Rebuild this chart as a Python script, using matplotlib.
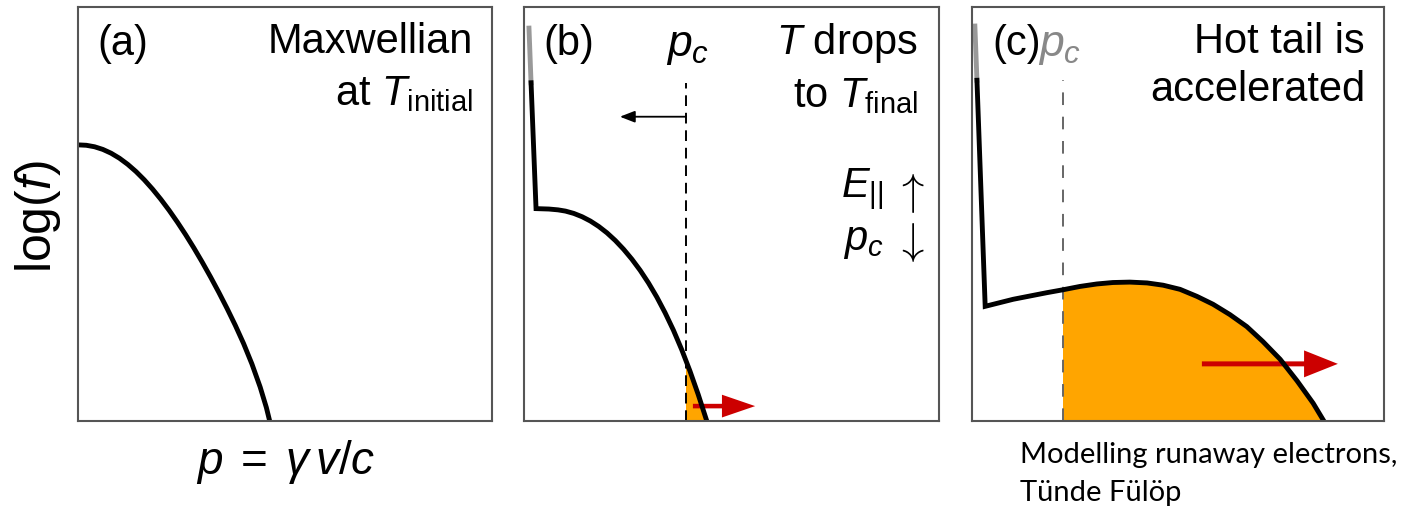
import numpy as np
import matplotlib
matplotlib.use('Agg')
import matplotlib.pyplot as plt
from matplotlib.patches import Rectangle

plt.rcParams['font.family'] = ['Liberation Sans', 'DejaVu Sans']
plt.rcParams['mathtext.fontset'] = 'custom'
plt.rcParams['mathtext.rm'] = 'Liberation Sans'
plt.rcParams['mathtext.it'] = 'Liberation Sans:italic'

# Curvas (p y log f en % del panel)
p_a = [0, 2, 4, 6, 8, 10, 12, 14, 16, 18, 20, 22, 24, 26, 28, 30, 32, 34, 36, 38, 40, 42, 44,
       45.5, 46.3]
f_a = [66.7, 66.6, 66.24, 65.6, 64.68, 63.48, 62.0, 60.26, 58.26, 56.02, 53.56, 50.9, 48.04,
       45.0, 41.78, 38.38, 34.82, 31.1, 27.2, 23.1, 18.7, 13.8, 8.2, 3.25, 0.0]

p_b_top = [1.2, 1.7]
f_b_top = [94.9, 81.7]
p_b = [1.7, 2.9, 6.0, 8.2, 10, 12, 14, 16, 18, 20, 22, 24, 26, 28, 30, 32, 34, 36, 38, 40, 42,
       44, 44.05]
f_b = [81.7, 51.3, 51.2, 51.0, 50.7, 50.14, 49.34, 48.3, 47.0, 45.44, 43.6, 41.48, 39.08, 36.38,
       33.34, 29.94, 26.14, 21.94, 17.24, 12.04, 6.34, 0.14, 0.0]
pc_b = 39.0

p_c_top = [0.7, 1.2]
f_c_top = [95.4, 82.3]
p_c = [1.2, 3.2, 10.0, 18.2, 22.1, 26.2, 30.3, 34.2, 38.3, 42.5, 46.4, 50.5, 54.6, 58.5,
       62.6, 66.7, 70.6, 74.8, 78.9, 82.8, 85.4]
f_c = [82.3, 27.7, 29.4, 31.0, 31.7, 32.5, 33.1, 33.45, 33.55, 33.35, 32.8, 31.8, 30.1, 28.2,
       25.7, 22.8, 19.2, 14.9, 9.7, 4.3, 0.0]
pc_c = 22.1

fig = plt.figure(figsize=(14.05, 5.09), dpi=100)
W, H = 1405.0, 509.0
ax_a = fig.add_axes([78 / W, 88 / H, 414 / W, 414 / H])
ax_b = fig.add_axes([524 / W, 88 / H, 415 / W, 414 / H])
ax_c = fig.add_axes([972 / W, 88 / H, 412 / W, 414 / H])

for ax in (ax_a, ax_b, ax_c):
    ax.set_xlim(0, 100)
    ax.set_ylim(0, 100)
    ax.set_xticks([])
    ax.set_yticks([])
    for s in ax.spines.values():
        s.set_color('#555555')
        s.set_linewidth(1.5)

orange = '#FFA500'
red = '#CC0000'
lw = 3.5
fs = 30

# (a)
ax_a.plot(p_a, f_a, color='black', lw=lw, solid_capstyle='butt')
ax_a.text(0.046, 0.91, '(a)', transform=ax_a.transAxes, fontsize=fs, va='center', ha='left')
ax_a.text(0.954, 0.915, 'Maxwellian', transform=ax_a.transAxes, fontsize=fs, va='center', ha='right')
ax_a.text(0.954, 0.79, r'at $T_{\mathrm{initial}}$', transform=ax_a.transAxes, fontsize=fs,
          va='center', ha='right')

# (b)
pb = np.array(p_b)
fb = np.array(f_b)
fill = ax_b.fill_between(pb, 0, fb, color=orange, lw=0)
fill.set_clip_path(Rectangle((pc_b, 0), 100 - pc_b, 100, transform=ax_b.transData))
ax_b.plot([pc_b, pc_b], [0, 81.7], color='black', lw=1.4, ls=(0, (5.5, 3.5)))
ax_b.plot(p_b_top, f_b_top, color='#999999', lw=lw)
ax_b.plot(p_b, f_b, color='black', lw=lw, solid_joinstyle='miter')
ax_b.annotate('', xy=(23.1, 73.5), xytext=(pc_b, 73.5),
              arrowprops=dict(arrowstyle='-|>,head_length=0.9,head_width=0.35', color='black', lw=1.3,
                              shrinkA=0, shrinkB=0))
ax_b.arrow(40.7, 3.6, 15.0, 0, width=1.1, head_width=5.5, head_length=8.0,
           length_includes_head=True, color=red, lw=0)
ax_b.text(0.046, 0.91, '(b)', transform=ax_b.transAxes, fontsize=fs, va='center', ha='left')
ax_b.text(0.393, 0.905, r'$p_c$', transform=ax_b.transAxes, fontsize=fs + 2, va='center', ha='center')
ax_b.text(0.949, 0.912, r'$T$ drops', transform=ax_b.transAxes, fontsize=fs, va='center', ha='right')
ax_b.text(0.949, 0.785, r'to $T_{\mathrm{final}}$', transform=ax_b.transAxes, fontsize=fs,
          va='center', ha='right')
ax_b.text(0.866, 0.56, r'$E_{||}$', transform=ax_b.transAxes, fontsize=fs, va='center', ha='right')
ax_b.text(0.866, 0.435, r'$p_c$', transform=ax_b.transAxes, fontsize=fs, va='center', ha='right')
ax_b.text(0.930, 0.55, r'$\uparrow$', transform=ax_b.transAxes, fontsize=32, va='center',
          ha='center', math_fontfamily='cm')
ax_b.text(0.930, 0.43, r'$\downarrow$', transform=ax_b.transAxes, fontsize=32, va='center',
          ha='center', math_fontfamily='cm')

# (c)
pcv = np.array(p_c)
fcv = np.array(f_c)
fill = ax_c.fill_between(pcv, 0, fcv, color=orange, lw=0)
fill.set_clip_path(Rectangle((pc_c, 0), 100 - pc_c, 100, transform=ax_c.transData))
ax_c.plot([pc_c, pc_c], [0, 82.3], color='#666666', lw=1.4, ls=(0, (6.5, 6)))
ax_c.plot(p_c_top, f_c_top, color='#999999', lw=lw)
ax_c.plot(p_c, f_c, color='black', lw=lw, solid_joinstyle='miter')
ax_c.arrow(55.8, 13.8, 33.0, 0, width=1.2, head_width=6.5, head_length=8.2,
           length_includes_head=True, color=red, lw=0)
ax_c.text(0.049, 0.91, '(c)', transform=ax_c.transAxes, fontsize=fs, va='center', ha='left')
ax_c.text(0.16, 0.905, r'$p_c$', transform=ax_c.transAxes, fontsize=fs + 2, va='center', ha='left',
          color='#888888')
ax_c.text(0.954, 0.915, 'Hot tail is', transform=ax_c.transAxes, fontsize=fs, va='center', ha='right')
ax_c.text(0.954, 0.80, 'accelerated', transform=ax_c.transAxes, fontsize=fs, va='center', ha='right')

# Etiquetas de ejes
fig.text(38 / W, 1 - 217 / H, r'log($f$)', rotation=90, fontsize=36, va='center', ha='center')
fig.text(286 / W, 1 - 462 / H, r'$p \;=\; \gamma\, v/c$', fontsize=33, va='center', ha='center')

fig.text(1020 / W, 1 - 455 / H, 'Modelling runaway electrons,', fontsize=21, family='Lato',
         va='center', ha='left')
fig.text(1020 / W, 1 - 493 / H, 'Tünde Fülöp', fontsize=21, family='Lato', va='center', ha='left')

fig.savefig('out.png', dpi=100)
